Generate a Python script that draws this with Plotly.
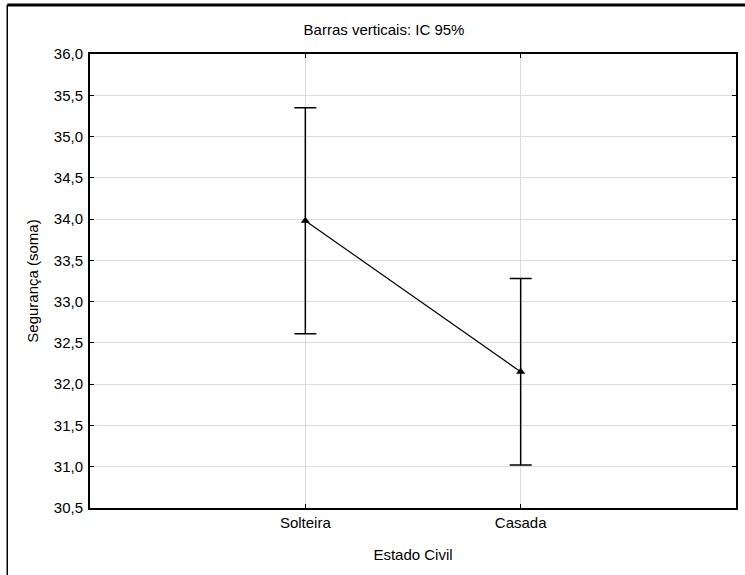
import plotly.graph_objects as go

categories = ["Solteira", "Casada"]
means = [33.98, 32.15]
ci_half = [1.37, 1.13]
y_ticks = [30.5, 31.0, 31.5, 32.0, 32.5, 33.0, 33.5, 34.0, 34.5, 35.0, 35.5, 36.0]

fig = go.Figure()
fig.add_trace(go.Scatter(
    x=[0, 1], y=means,
    mode="lines+markers",
    line=dict(color="black", width=1.2),
    marker=dict(symbol="triangle-up", size=8, color="black"),
    error_y=dict(type="data", array=ci_half, visible=True, color="black", thickness=1.5, width=11),
    showlegend=False,
    hoverinfo="skip",
))

font_family = "Liberation Sans, Arial, sans-serif"
fs = 15
fig.update_layout(
    width=745, height=575,
    margin=dict(l=90, r=7, t=54, b=67),
    paper_bgcolor="white", plot_bgcolor="white",
    separators=",.",
    font=dict(family=font_family, size=fs, color="black"),
    title=dict(text="Barras verticais: IC 95%", x=384 / 745, xanchor="center",
               y=1 - 30 / 575, yanchor="middle", font=dict(size=fs, family=font_family)),
    xaxis=dict(
        range=[-1, 2], tickmode="array", tickvals=[0, 1], ticktext=categories,
        showgrid=True, gridcolor="#dcdcdc", gridwidth=1,
        showline=True, linecolor="black", linewidth=2, mirror="ticks",
        ticks="inside", ticklen=4, tickcolor="black",
        zeroline=False,
        title=dict(text="Estado Civil", standoff=19, font=dict(size=fs)),
        tickfont=dict(size=fs),
    ),
    yaxis=dict(
        range=[30.5, 36.0], tickmode="array", tickvals=y_ticks, tickformat=".1f",
        showgrid=True, gridcolor="#dcdcdc", gridwidth=1,
        showline=True, linecolor="black", linewidth=2, mirror="ticks",
        ticks="inside", ticklen=4, tickcolor="black",
        ticklabelstandoff=2,
        zeroline=False,
        title=dict(text="Segurança (soma)", standoff=12, font=dict(size=fs)),
        tickfont=dict(size=fs),
    ),
    shapes=[
        dict(type="line", xref="paper", yref="paper",
             x0=(7 - 90) / 648, x1=(745 - 90) / 648 + 0.02,
             y0=1 + (54 - 5) / 454, y1=1 + (54 - 5) / 454,
             line=dict(color="black", width=3)),
        dict(type="line", xref="paper", yref="paper",
             x0=(7 - 90) / 648, x1=(7 - 90) / 648,
             y0=1 + (54 - 5) / 454, y1=-(575 - 508) / 454 - 0.02,
             line=dict(color="black", width=1.5)),
    ],
)

fig.write_html("out.html")
